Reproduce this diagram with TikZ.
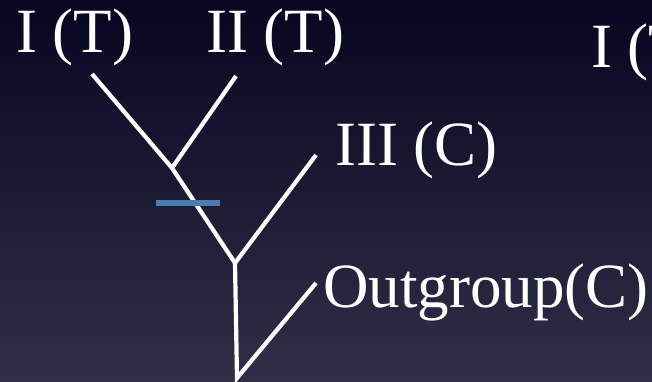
\documentclass[tikz,border=0pt]{standalone}
\usepackage{fontspec}
\setmainfont{Liberation Serif}
\definecolor{skytop}{RGB}{6,6,32}
\definecolor{skybottom}{RGB}{48,47,72}
\definecolor{synapo}{RGB}{74,124,174}
\begin{document}
\begin{tikzpicture}[x=1pt,y=-1pt,
  every node/.style={font=\fontsize{63}{70}\selectfont, text=white, inner sep=0pt, anchor=base west},
  branch/.style={draw=white, line width=4.2pt}]
\clip (0,0) rectangle (652,382);
\shade[top color=skytop, bottom color=skybottom] (0,0) rectangle (652,382);
% taxa
\node (one) at (16,53) {I (T)};
\node (two) at (206,53) {II (T)};
\node (three) at (335,165) {III (C)};
\node (out) at (323,307) {Outgroup(C)};
\node (onebis) at (591,68) {I (T)};
% tips and forks
\coordinate (tipone) at (92,74);
\coordinate (tiptwo) at (236,76);
\coordinate (tipthree) at (316,155);
\coordinate (tipout) at (316,283);
\coordinate (forka) at (172,168);
\coordinate (forkb) at (235,263);
\coordinate (root) at (237,378);
\draw[branch] (tipone) -- (forka) -- (forkb) -- (root) -- (tipout);
\draw[branch] (tiptwo) -- (forka);
\draw[branch] (tipthree) -- (forkb);
\draw[synapo, line width=5.5pt] (156,203) -- (220,203);
\end{tikzpicture}
\end{document}
